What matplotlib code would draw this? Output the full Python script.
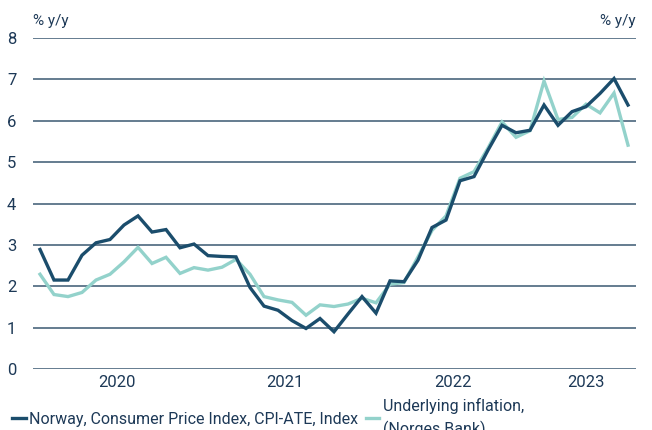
import numpy as np
import pandas as pd
import matplotlib
matplotlib.use("Agg")
import matplotlib.pyplot as plt

plt.rcParams["font.family"] = ["Roboto", "DejaVu Sans"]

# monthly, Jan 2020 - Jul 2023
months = pd.date_range("2020-01-01", "2023-07-01", freq="MS")

cpi_ate = [
    2.89, 2.15, 2.15, 2.75, 3.05, 3.13, 3.48, 3.70, 3.31, 3.37, 2.93, 3.02,
    2.74, 2.72, 2.71, 1.97, 1.52, 1.42, 1.17, 0.98, 1.22, 0.90, 1.33, 1.75,
    1.35, 2.13, 2.11, 2.63, 3.42, 3.60, 4.55, 4.65, 5.29, 5.89, 5.71, 5.77,
    6.38, 5.89, 6.22, 6.34, 6.66, 7.02, 6.38,
]
underlying = [
    2.29, 1.80, 1.75, 1.85, 2.15, 2.29, 2.59, 2.94, 2.55, 2.70, 2.31, 2.45,
    2.39, 2.46, 2.65, 2.29, 1.75, 1.67, 1.61, 1.30, 1.55, 1.51, 1.57, 1.71,
    1.60, 2.05, 2.09, 2.71, 3.35, 3.70, 4.61, 4.77, 5.34, 5.97, 5.60, 5.76,
    6.96, 6.03, 6.08, 6.40, 6.19, 6.67, 5.41,
]

label_cpi = "Norway, Consumer Price Index, CPI-ATE, Index"
label_und = "Underlying inflation,\n(Norges Bank)"
y_ticks = [0, 1, 2, 3, 4, 5, 6, 7, 8]
unit = "% y/y"

DARK = "#1b4d6c"
LIGHT = "#93d2cb"
TEXT = "#1d3957"
GRID = "#3a5872"

fig = plt.figure(figsize=(6.52, 4.30), dpi=100)
ax = fig.add_axes([33 / 652, 1 - 369 / 430, (636 - 33) / 652, (369 - 38) / 430])

x = np.arange(len(months))
ax.plot(x, underlying, color=LIGHT, lw=2.4, label=label_und, solid_joinstyle="miter")
ax.plot(x, cpi_ate, color=DARK, lw=2.4, label=label_cpi, solid_joinstyle="miter")

ax.set_xlim(-0.5, 42.57)
ax.set_ylim(0, 8)
ax.set_yticks(y_ticks)
for y in y_ticks:
    ax.axhline(y, color=GRID, lw=1.1, zorder=0)

# year labels centred on the visible months of each year
years = months.year
yr_pos = [x[years == yr].mean() for yr in sorted(set(years))]
ax.set_xticks(yr_pos)
ax.set_xticklabels([str(yr) for yr in sorted(set(years))])

for s in ax.spines.values():
    s.set_visible(False)
ax.tick_params(axis="both", length=0, colors=TEXT, labelsize=12)
ax.tick_params(axis="x", pad=4)
ax.tick_params(axis="y", pad=12, labelleft=True, labelright=True)

ax.text(0, 1.03, unit, transform=ax.transAxes, color=TEXT, fontsize=11,
        ha="left", va="bottom")
ax.text(1, 1.03, unit, transform=ax.transAxes, color=TEXT, fontsize=11,
        ha="right", va="bottom")

h, l = ax.get_legend_handles_labels()
leg = fig.legend(h[::-1], l[::-1], loc="center left",
                 bbox_to_anchor=(12 / 652, 1 - 418 / 430),
                 ncol=2, frameon=False, fontsize=11.5, handlelength=0.85,
                 handletextpad=0.2, columnspacing=0.5, labelcolor=TEXT,
                 borderaxespad=0, borderpad=0)
for t in leg.get_texts():
    t.set_linespacing(1.45)

fig.savefig("out.png", dpi=100)
